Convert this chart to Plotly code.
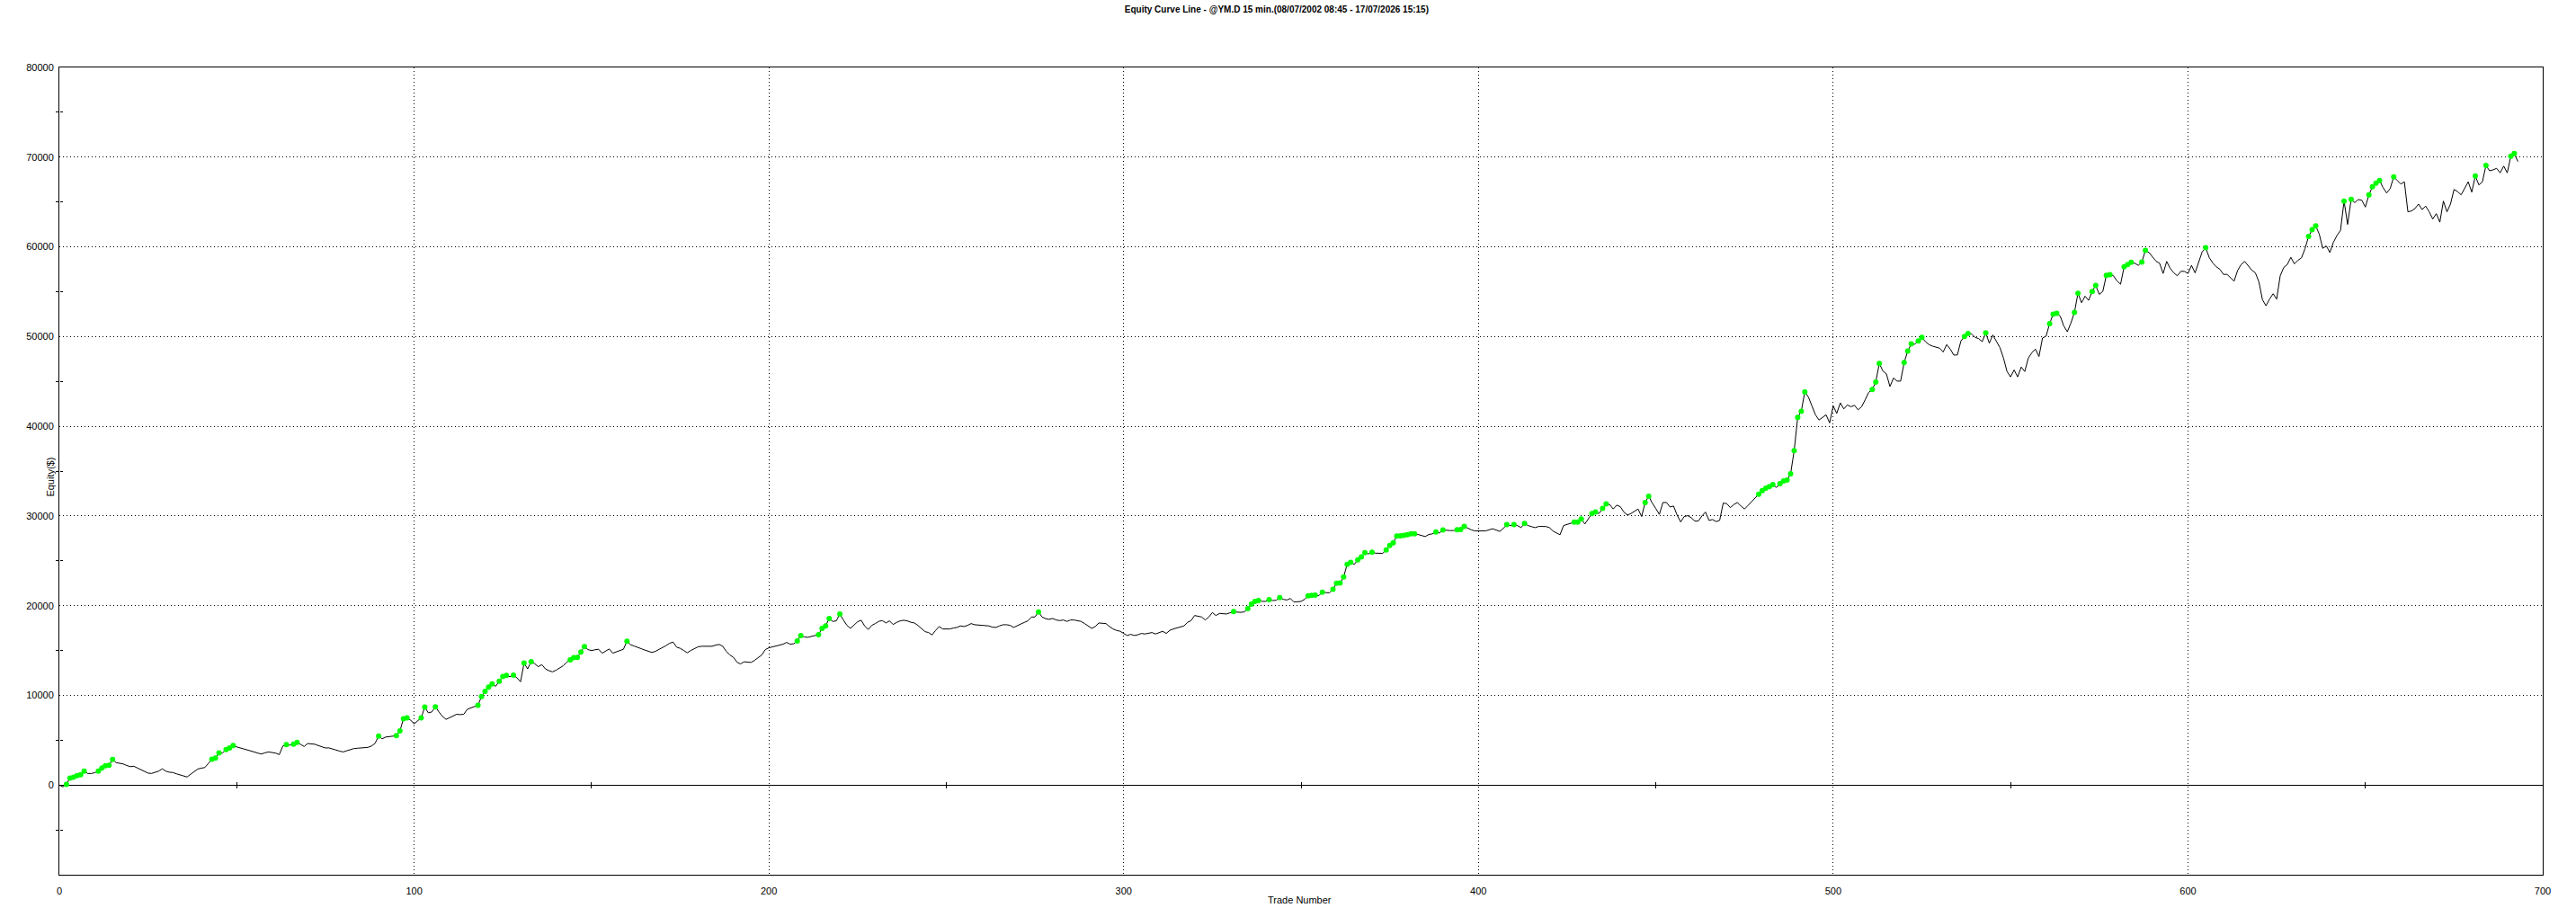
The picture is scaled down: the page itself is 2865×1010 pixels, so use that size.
import plotly.graph_objects as go

# Equity value after each trade (USD)
equity = [
    0, -200, 80, 780, 870, 1040, 1140, 1540, 1290, 1280,
    1380, 1560, 1900, 2150, 2210, 2850, 2500, 2420, 2350, 2180,
    2050, 2090, 1900, 1700, 1500, 1330, 1290, 1400, 1550, 1810,
    1550, 1430, 1400, 1250, 1150, 1000, 900, 1200, 1500, 1780,
    1880, 1950, 2400, 2890, 3000, 3590, 3560, 3960, 4130, 4400,
    4250, 4150, 4050, 3900, 3790, 3680, 3550, 3460, 3600, 3690,
    3620, 3560, 3390, 4360, 4500, 4460, 4560, 4770, 4530, 4300,
    4630, 4600, 4550, 4400, 4250, 4130, 4140, 4050, 3900, 3780,
    3690, 3820, 3950, 4060, 4100, 4130, 4140, 4200, 4350, 4650,
    5470, 5150, 5350, 5420, 5440, 5500, 6040, 7380, 7480, 7250,
    6810, 7150, 7500, 8690, 8050, 8150, 8720, 8150, 7650, 7320,
    7500, 7720, 7890, 7850, 7890, 8450, 8600, 8700, 8890, 9870,
    10440, 10910, 11280, 11010, 11580, 12110, 12220, 12080, 12250, 11950,
    11510, 13590, 12950, 13760, 13520, 13190, 13420, 12950, 12750, 12620,
    12800, 13050, 13290, 13690, 13960, 14200, 14230, 14830, 15440, 15100,
    14990, 15080, 15140, 14700, 14970, 15170, 14700, 14850, 15000, 15140,
    16040, 15640, 15500, 15380, 15200, 15050, 14950, 14780, 14900, 15100,
    15300, 15540, 15800, 15940, 15370, 15240, 15000, 14740, 15000, 15240,
    15400, 15470, 15470, 15450, 15470, 15600, 15670, 15470, 14900, 14500,
    14240, 13700, 13500, 13740, 13700, 13670, 13910, 14240, 14500, 15100,
    15300, 15400, 15480, 15570, 15700, 15900, 15700, 15750, 16070, 16670,
    16500, 16470, 16570, 16650, 16770, 17470, 17740, 18570, 18240, 18300,
    19070, 18400, 17800, 17470, 17850, 18200, 18370, 17740, 17340, 17800,
    18000, 18250, 18330, 18070, 18300, 17900, 18130, 18300, 18370, 18300,
    18150, 18070, 17800, 17400, 17100, 17000, 16740, 17240, 17670, 17400,
    17420, 17400, 17500, 17570, 17740, 17670, 17800, 18000, 17870, 17850,
    17800, 17760, 17740, 17600, 17570, 17740, 17870, 17870, 17800, 17570,
    17800, 17950, 18130, 18300, 18730, 18730, 19300, 18730, 18550, 18470,
    18570, 18400, 18330, 18400, 18240, 18400, 18400, 18350, 18240, 18000,
    17700, 17470, 17670, 18070, 18030, 18000, 17670, 17400, 17240, 17140,
    16900, 16670, 16800, 16670, 16750, 16900, 16840, 16900, 17000, 16840,
    17000, 17140, 16900, 17240, 17400, 17500, 17670, 17740, 18130, 18330,
    18900, 18800, 18730, 18400, 18730, 19230, 18900, 19130, 19100, 19070,
    19200, 19330, 19280, 19250, 19300, 19670, 20170, 20470, 20570, 20480,
    20470, 20670, 20570, 20600, 20900, 20700, 20630, 20800, 20400, 20430,
    20470, 20700, 21100, 21150, 21170, 21100, 21500, 21450, 21430, 21830,
    22500, 22510, 23200, 24600, 24830, 24600, 25100, 25430, 25900, 25770,
    25950, 25850, 25830, 25830, 26200, 26700, 27000, 27770, 27780, 27830,
    27900, 28000, 28010, 27930, 27850, 27700, 27930, 28000, 28200, 28100,
    28430, 28380, 28370, 28370, 28450, 28480, 28830, 28600, 28450, 28330,
    28330, 28330, 28330, 28450, 28570, 28430, 28270, 28600, 29030, 28930,
    29040, 28930, 28700, 29170, 28930, 28800, 28700, 28830, 28830, 28820,
    28700, 28330, 28100, 27900, 28930, 29050, 29170, 29300, 29310, 29670,
    29100, 29670, 30270, 30430, 30270, 30830, 31330, 31270, 30770, 31200,
    31030, 30430, 30100, 30270, 30500, 30770, 29930, 31500, 32200, 31430,
    30830, 30170, 31500, 31500, 31000, 31100, 30100, 29330, 29930, 30030,
    29800, 29430, 29430, 30000, 30430, 29500, 29600, 29370, 29500, 31430,
    31370, 30930, 31270, 31500, 31100, 30770, 31170, 31600, 32000, 32430,
    32830, 33100, 33270, 33500, 33170, 33600, 33900, 34000, 34700, 37270,
    41000, 41670, 43830, 43270, 42270, 41270, 40700, 41030, 41270, 40370,
    42270, 41430, 42600, 41930, 42370, 42170, 42330, 41830, 42170, 42930,
    43770, 44100, 44930, 47000, 46170, 45830, 44430, 45370, 45030, 45030,
    47100, 48370, 49170, 49150, 49500, 49900, 49430, 49100, 48930, 48800,
    48700, 48270, 49100, 48600, 47930, 47950, 49500, 50000, 50330, 50300,
    49900, 49770, 49430, 50400, 49270, 50170, 49430, 48770, 47600, 46100,
    45500, 46270, 45500, 46600, 46100, 47600, 48200, 48600, 47770, 49830,
    50030, 51430, 52500, 52600, 52270, 51170, 50530, 51500, 52700, 54830,
    53770, 54500, 54030, 55030, 55700, 54700, 55030, 56830, 56900, 56770,
    56200, 55830, 57770, 58030, 58270, 58170, 57930, 58300, 59600, 59370,
    58930, 58400, 58170, 57030, 58370, 57600, 57100, 56770, 57270, 57270,
    57030, 57930, 57100, 58370, 59430, 59900, 58800, 58200, 57770, 57500,
    56930, 56930, 56500, 56170, 57370, 58030, 58370, 57930, 57400, 57100,
    56100, 54100, 53430, 54170, 54770, 54170, 56770, 57700, 58030, 58830,
    58100, 58500, 58770, 59800, 61160, 61900, 62330, 61430, 59830, 60100,
    59370, 60500, 61270, 61830, 65100, 62500, 65300, 64930, 65270, 65200,
    64430, 65800, 66700, 67100, 67400, 66600, 66000, 66500, 67800, 67400,
    67000, 67250, 63900, 64000, 64270, 64770, 64150, 64550, 63900, 63100,
    63700, 62750, 65100, 63900, 64770, 66400, 66150, 65800, 66600, 67250,
    66100, 67900, 66900, 67250, 69080, 68480, 68580, 68750, 68250, 69000,
    68250, 70100, 70400, 69500,
]
trade_number = list(range(len(equity)))

x_tick_values = [0, 100, 200, 300, 400, 500, 600, 700]
y_tick_values = [0, 10000, 20000, 30000, 40000, 50000, 60000, 70000, 80000]
y_minor_values = [-5000, 5000, 15000, 25000, 35000, 45000, 55000, 65000, 75000]
x_minor_values = [50, 150, 250, 350, 450, 550, 650]

title_text = "Equity Curve Line - @YM.D 15 min.(08/07/2002 08:45 - 17/07/2026 15:15)"
x_title = "Trade Number"
y_title = "Equity($)"

# New equity highs (green markers)
hx, hy = [], []
peak = equity[0]
for t, v in zip(trade_number, equity):
    if v > peak:
        hx.append(t)
        hy.append(v)
        peak = v

FONT = "Liberation Sans, Arial, sans-serif"
X_RANGE = [0, 700]
Y_RANGE = [-10000, 80000]

fig = go.Figure()
fig.add_trace(go.Scatter(x=trade_number, y=equity, mode="lines",
                         line=dict(color="black", width=1), hoverinfo="skip"))
fig.add_trace(go.Scatter(x=hx, y=hy, mode="markers",
                         marker=dict(color="#00FF00", size=6, line=dict(width=0)),
                         hoverinfo="skip"))
# empty traces so the tick-only overlay axes are drawn
fig.add_trace(go.Scatter(x=[None], y=[None], xaxis="x2", yaxis="y", showlegend=False))
fig.add_trace(go.Scatter(x=[None], y=[None], xaxis="x3", yaxis="y", showlegend=False))
fig.add_trace(go.Scatter(x=[None], y=[None], xaxis="x", yaxis="y2", showlegend=False))

zero_pos = (0 - Y_RANGE[0]) / (Y_RANGE[1] - Y_RANGE[0])

fig.update_layout(
    width=2865, height=1010,
    margin=dict(l=66, r=37, t=75, b=37),
    paper_bgcolor="white", plot_bgcolor="white",
    showlegend=False,
    font=dict(family=FONT, size=11, color="black"),
    title=dict(text="<b>" + title_text + "</b>", x=0.4956, xref="container",
               xanchor="center", y=1 - 10 / 1010, yref="container", yanchor="middle",
               font=dict(family=FONT, size=10, color="black")),
    xaxis=dict(range=X_RANGE, tickvals=x_tick_values, ticks="", tickformat="d",
               showline=True, linecolor="black", linewidth=1, mirror=True,
               showgrid=True, gridcolor="black", gridwidth=1, griddash="1px,3px",
               zeroline=False, tickfont=dict(family=FONT, size=11, color="black"),
               ticklabelstandoff=8),
    yaxis=dict(range=Y_RANGE, tickvals=y_tick_values, ticks="", tickformat="d",
               showline=True, linecolor="black", linewidth=1, mirror=True,
               showgrid=True, gridcolor="black", gridwidth=1, griddash="1px,3px",
               zeroline=True, zerolinecolor="black", zerolinewidth=1,
               tickfont=dict(family=FONT, size=11, color="black"),
               ticklabelstandoff=3,
               minor=dict(tickvals=y_minor_values, ticks="outside", ticklen=3,
                          tickcolor="black", tickwidth=1, showgrid=False)),
    xaxis2=dict(overlaying="x", anchor="free", position=zero_pos, side="bottom",
                range=X_RANGE, tickvals=x_minor_values, ticks="outside", ticklen=3,
                tickcolor="black", showticklabels=False, showgrid=False,
                showline=False, zeroline=False),
    xaxis3=dict(overlaying="x", anchor="free", position=zero_pos, side="top",
                range=X_RANGE, tickvals=x_minor_values, ticks="outside", ticklen=3,
                tickcolor="black", showticklabels=False, showgrid=False,
                showline=False, zeroline=False),
    yaxis2=dict(overlaying="y", anchor="free", position=0, side="right",
                range=Y_RANGE, tickvals=y_minor_values, ticks="outside", ticklen=3,
                tickcolor="black", showticklabels=False, showgrid=False,
                showline=False, zeroline=False),
    annotations=[
        dict(text=y_title, xref="paper", yref="paper", x=-0.0035, y=0.493,
             textangle=-90, showarrow=False, xanchor="center", yanchor="middle",
             font=dict(family=FONT, size=11, color="black")),
        dict(text=x_title, xref="paper", yref="paper", x=0.4993, y=-0.0401,
             showarrow=False, xanchor="center", yanchor="bottom",
             font=dict(family=FONT, size=11, color="black")),
    ],
)

fig.write_html("out.html", config={"displayModeBar": False},
               post_script="document.body.style.margin='0px';document.body.style.overflow='hidden';")
